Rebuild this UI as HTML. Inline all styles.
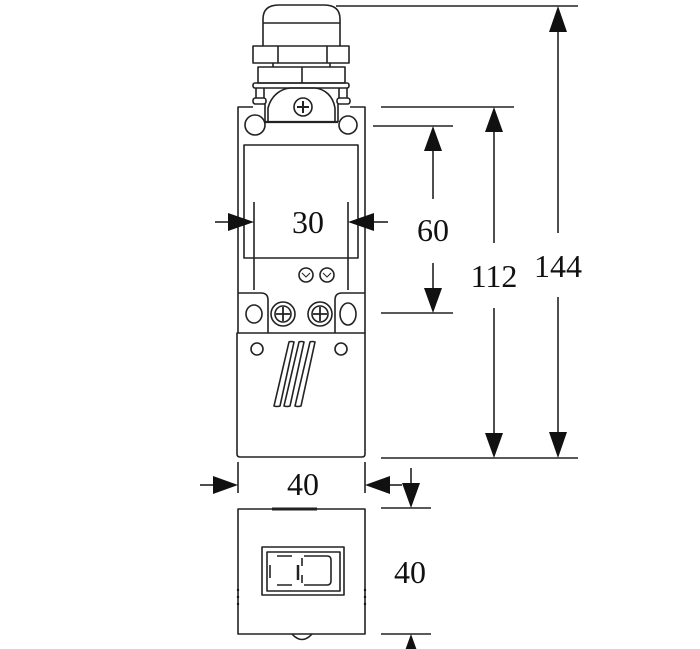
<!DOCTYPE html>
<html><head><meta charset="utf-8"><style>
html,body{margin:0;padding:0;background:#fff;}
svg{display:block;}
text{font-family:"Liberation Serif","Noto Serif CJK SC",serif;font-size:32px;fill:#111;text-anchor:middle;}
</style></head><body>
<svg width="700" height="649" viewBox="0 0 700 649" xmlns="http://www.w3.org/2000/svg">
<g fill="none" stroke="#222" stroke-width="1.6" stroke-linejoin="round">
<!-- cap -->
<path d="M263,46 V19 Q263,5 279,5 H324 Q340,5 340,19 V46"/>
<line x1="263" y1="23" x2="340" y2="23"/>
<rect x="253" y="46" width="96" height="17"/>
<line x1="278" y1="46" x2="278" y2="63"/><line x1="327" y1="46" x2="327" y2="63"/>
<line x1="273" y1="63" x2="273" y2="67"/><line x1="330" y1="63" x2="330" y2="67"/>
<rect x="258" y="67" width="87" height="16"/>
<line x1="302" y1="67" x2="302" y2="83"/>
<rect x="253" y="83" width="96" height="5" rx="2"/>
<!-- stubs -->
<path d="M256,88 V98 M264,88 V98"/>
<rect x="253" y="98" width="13" height="6" rx="2.5"/>
<path d="M339,88 V98 M347,88 V98"/>
<rect x="337" y="98" width="13" height="6" rx="2.5"/>
<path d="M265,104 V122 M338,104 V122"/>
<!-- body upper -->
<path d="M238,333 V107 H253"/>
<path d="M350,107 H365 V333"/>
<!-- lever -->
<path d="M268,122 V108 C271,96 280,89 290,88 H315 C325,89 333,96 335,108 V122"/>
<line x1="265" y1="122" x2="338" y2="122" stroke-width="2.2"/>
<circle cx="303" cy="107" r="9"/>
<path d="M297,107 H309 M303,101 V113" stroke-width="2"/>
<circle cx="255" cy="125" r="10"/>
<circle cx="348" cy="125" r="9"/>
<!-- window -->
<rect x="244" y="145" width="114" height="113"/>
<line x1="254" y1="202" x2="254" y2="290"/>
<line x1="348" y1="202" x2="348" y2="290"/>
<circle cx="306" cy="275" r="7"/><circle cx="327" cy="275" r="7"/>
<path d="M302,273 l4,4 l4,-4 M323,273 l4,4 l4,-4" stroke-width="1"/>
<!-- terminals -->
<path d="M238,293 H261 Q268,293 268,300 V333"/>
<path d="M365,293 H342 Q335,293 335,300 V333"/>
<ellipse cx="254" cy="314" rx="8" ry="9"/>
<circle cx="283" cy="314" r="12"/><circle cx="283" cy="314" r="8"/>
<path d="M276,314 H290 M283,307 V321" stroke-width="1.8"/>
<circle cx="320" cy="314" r="12"/><circle cx="320" cy="314" r="8"/>
<path d="M313,314 H327 M320,307 V321" stroke-width="1.8"/>
<ellipse cx="348" cy="314" rx="8" ry="11"/>
<!-- lower body -->
<path d="M237,333 H365 V454 Q365,457 362,457 H240 Q237,457 237,454 Z"/>
<circle cx="257" cy="349" r="6"/><circle cx="341" cy="349" r="6"/>
<path d="M289,342 Q291,341 294,342 L280,406 Q277,407 274,406 Z"/>
<path d="M299,342 Q301,341 304,342 L290,406 Q287,407 284,406 Z"/>
<path d="M310,342 Q312,341 315,342 L301,406 Q298,407 295,406 Z"/>
<!-- extension lines 40 -->
<line x1="238" y1="462" x2="238" y2="493"/>
<line x1="365" y1="462" x2="365" y2="493"/>
<!-- bottom view -->
<rect x="238" y="509" width="127" height="125"/>
<line x1="272" y1="509" x2="317" y2="509" stroke-width="3"/>
<rect x="262" y="547" width="82" height="48"/>
<rect x="267" y="552" width="73" height="39"/>
<path d="M277,556 H292 M277,585 H292 M270,565 V578"/>
<line x1="298" y1="565" x2="298" y2="580" stroke-width="2.5"/>
<path d="M304,556 H327 Q331,556 331,560 V581 Q331,585 327,585 H304 M302,575 V583 M302,558 V566"/>
<path d="M292,634 Q302,645 312,634"/>
<!-- dimension lines -->
<line x1="336" y1="6" x2="578" y2="6"/>
<line x1="381" y1="107" x2="514" y2="107"/>
<line x1="373" y1="126" x2="453" y2="126"/>
<line x1="381" y1="313" x2="453" y2="313"/>
<line x1="381" y1="458" x2="578" y2="458"/>
<line x1="381" y1="508" x2="431" y2="508"/>
<line x1="381" y1="634" x2="431" y2="634"/>
<!-- shafts -->
<line x1="558" y1="30" x2="558" y2="233"/>
<line x1="558" y1="297" x2="558" y2="434"/>
<line x1="494" y1="130" x2="494" y2="243"/>
<line x1="494" y1="308" x2="494" y2="434"/>
<line x1="433" y1="150" x2="433" y2="199"/>
<line x1="433" y1="263" x2="433" y2="289"/>
<line x1="215" y1="222" x2="230" y2="222"/>
<line x1="373" y1="222" x2="388" y2="222"/>
<line x1="200" y1="485" x2="215" y2="485"/>
<line x1="388" y1="485" x2="402" y2="485"/>
<line x1="411" y1="468" x2="411" y2="485"/>
</g>
<g fill="#111" stroke="none">
<!-- vertical arrowheads -->
<polygon points="558,6 549,32 567,32"/>
<polygon points="558,458 549,432 567,432"/>
<polygon points="494,107 485,132 503,132"/>
<polygon points="494,458 485,433 503,433"/>
<polygon points="433,126 424,151 442,151"/>
<polygon points="433,313 424,288 442,288"/>
<polygon points="411,508 402,483 420,483"/>
<polygon points="411,634 402,659 420,659"/>
<!-- horizontal arrowheads -->
<polygon points="254,222 228,213 228,231"/>
<polygon points="348,222 374,213 374,231"/>
<polygon points="238,485 213,476 213,494"/>
<polygon points="365,485 390,476 390,494"/>
<!-- side dots -->
<circle cx="238" cy="590" r="1.2"/><circle cx="238" cy="597" r="1.2"/><circle cx="238" cy="604" r="1.2"/>
<circle cx="365" cy="590" r="1.2"/><circle cx="365" cy="597" r="1.2"/><circle cx="365" cy="604" r="1.2"/>
</g>
<text x="308" y="233">30</text>
<text x="433" y="241">60</text>
<text x="494" y="287">112</text>
<text x="558" y="277">144</text>
<text x="303" y="495">40</text>
<text x="410" y="583">40</text>
</svg>
</body></html>
